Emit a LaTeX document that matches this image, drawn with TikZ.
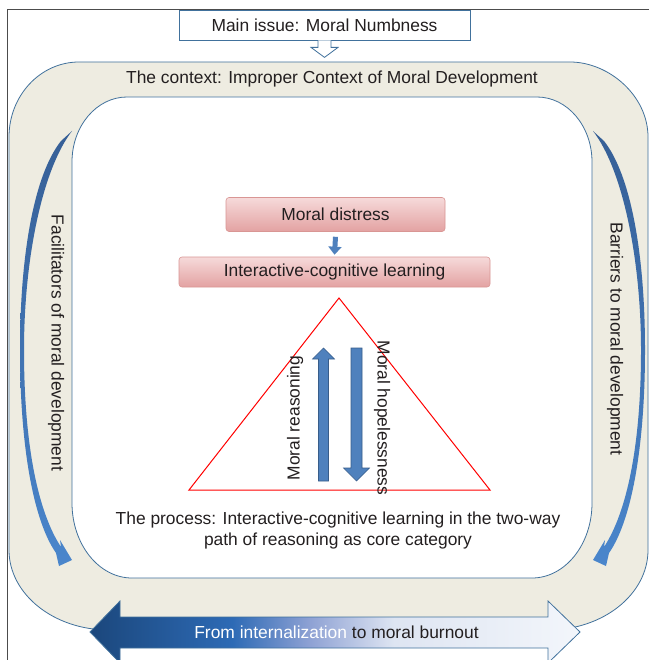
\documentclass[tikz,border=0pt]{standalone}
\usepackage{fontspec}
\setmainfont{Liberation Sans}
\usetikzlibrary{calc,arrows.meta}
\definecolor{beige}{HTML}{EEECE1}
\definecolor{bord}{HTML}{41719C}
\definecolor{txt}{HTML}{231F20}
\definecolor{arrA}{HTML}{365F96}
\definecolor{arrB}{HTML}{4A86CC}
\definecolor{blk}{HTML}{4F81BD}
\definecolor{blkd}{HTML}{385D8A}
\definecolor{pinktop}{HTML}{F6DADA}
\definecolor{pinkbot}{HTML}{E3A2A2}
\definecolor{pinkbord}{HTML}{D99694}
\definecolor{bA}{HTML}{1B477C}
\definecolor{bB}{HTML}{2D6AB5}
\definecolor{bC}{HTML}{8FA2D4}
\definecolor{bD}{HTML}{DEE5F2}
\definecolor{bE}{HTML}{F3F6FB}
\pgfdeclarehorizontalshading{burnout}{100bp}{color(0bp)=(bA); color(25bp)=(bA); color(39.5bp)=(bB); color(47.5bp)=(bC); color(56bp)=(bD); color(75bp)=(bE); color(100bp)=(bE)}
\def\sidearrowpath{(72,131) .. controls (42,170) and (24,260) .. (24,350) .. controls (24,445) and (38,512) .. (61,547) -- (60,540) -- (72,560) -- (59,566) -- (56,553) .. controls (33,520) and (20,445) .. (20,350) .. controls (20,255) and (34,175) .. (61,141) -- cycle}
\begin{document}
\begin{tikzpicture}[x=1pt,y=-1pt,
  every node/.style={font=\fontsize{17.4}{21}\selectfont, text=txt, inner sep=0pt},
  pinkbox/.style={draw=pinkbord, line width=0.6pt, rounded corners=3pt, top color=pinktop, bottom color=pinkbot},
  bluearrow/.style={fill=blk, draw=blkd, line width=0.6pt}]
\useasboundingbox (0,0) rectangle (649,660);
% outer frame
\draw[black!70, line width=0.8pt] (649,9) -- (7,9) -- (7,660);
% context band
\fill[beige, draw=bord, line width=0.8pt]
  (79,62) -- (570,62) .. controls (608.7,62) and (648,95.6) .. (648,137)
  -- (648,550) .. controls (648,594.2) and (603.2,630) .. (548,630)
  -- (109,630) .. controls (53.8,630) and (9,594.2) .. (9,550)
  -- (9,137) .. controls (9,95.6) and (40.3,62) .. (79,62) -- cycle;
% inner white
\fill[white, draw=bord, line width=0.8pt]
  (127,97) -- (537,97) .. controls (567.4,97) and (592,126.1) .. (592,162)
  -- (592,503) .. controls (592,544.4) and (565.1,578) .. (532,578)
  -- (132,578) .. controls (98.9,578) and (72,544.4) .. (72,503)
  -- (72,162) .. controls (72,126.1) and (96.6,97) .. (127,97) -- cycle;
% main issue
\node[draw=bord, fill=white, line width=0.8pt, minimum width=291pt, minimum height=30pt] (issue) at (324.5,25) {Main issue: Moral Numbness};
\draw[bord, fill=white, line width=0.8pt]
  ($(issue.south)+(-6.5,0)$) -- ++(0,7) -- ++(-7,0) -- ($(issue.south)+(0,17)$)
  -- ($(issue.south)+(13.5,7)$) -- ++(-7,0) -- ($(issue.south)+(6.5,0)$);
\node (context) at (332,79) {The context: Improper Context of Moral Development};
% side arrows
\shade[top color=arrA, bottom color=arrB] \sidearrowpath;
\begin{scope}[xshift=665pt, xscale=-1]
\shade[top color=arrA, bottom color=arrB] \sidearrowpath;
\end{scope}
\node[rotate=-90] (facil) at (56,343) {Facilitators of moral development};
\node[rotate=-90] (barr) at (615,339) {Barriers to moral development};
% process
\node[pinkbox, minimum width=219pt, minimum height=34pt] (distress) at (335.5,214.5) {Moral distress};
\node[pinkbox, minimum width=311pt, minimum height=30pt] (learning) at (334.5,272) {Interactive-cognitive learning};
\draw[blk, line width=5pt, -{Triangle[width=13pt,length=8pt]}] ([yshift=-5pt]distress.south) -- ([yshift=2pt]learning.north);
\draw[red, line width=1pt] (339,298) coordinate (apex) -- (490,490) coordinate (br) -- (189,490) coordinate (bl) -- cycle;
\draw[bluearrow] (318.5,481) -- (318.5,359) -- (312.5,359) -- (323.5,348) -- (334.5,359) -- (328.5,359) -- (328.5,481) -- cycle;
\draw[bluearrow] (351,348) -- (362,348) -- (362,468) -- (369.5,468) -- (356.5,481) -- (343.5,468) -- (351,468) -- cycle;
\node[rotate=90] (reason) at (295,418) {Moral reasoning};
\node[rotate=-90] (hope) at (382,418) {Moral hopelessness};
\node[align=center] (process) at (338,530) {The process: Interactive-cognitive learning in the two-way\\path of reasoning as core category};
% bottom arrow
\shade[shading=burnout] (90,632) -- (120,601) -- (120,617) -- (548,617) -- (548,601) -- (580,632) -- (548,663) -- (548,648) -- (120,648) -- (120,663) -- cycle;
\draw[bord, line width=0.8pt] (90,632) -- (120,601) -- (120,617) -- (548,617) -- (548,601) -- (580,632) -- (548,663) -- (548,648) -- (120,648) -- (120,663) -- cycle;
\node (burn) at (336.5,632) {\textcolor{white}{From internalization} to moral burnout};
\end{tikzpicture}
\end{document}
